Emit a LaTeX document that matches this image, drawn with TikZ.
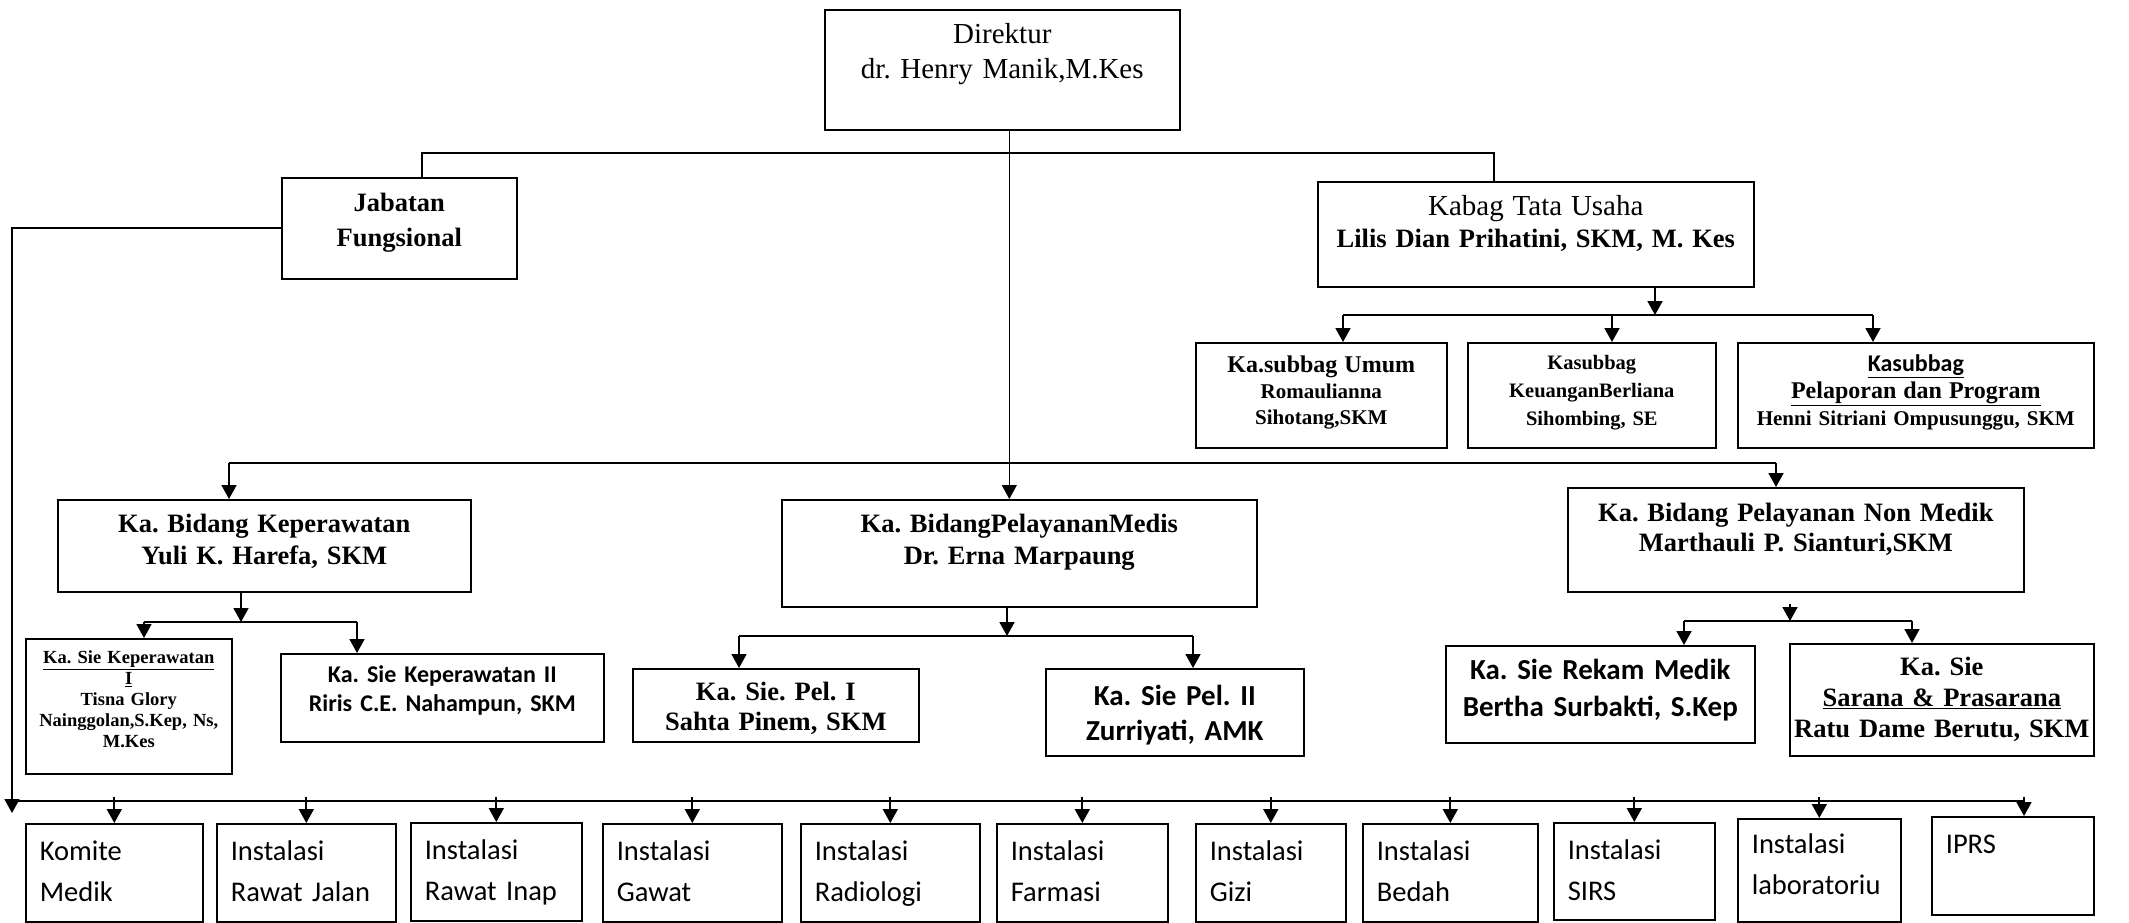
\documentclass[tikz,border=0pt]{standalone}
\usepackage{fontspec}
\setmainfont{Liberation Serif}
\newfontfamily\calibri{Carlito}
\usetikzlibrary{arrows.meta,calc}
\frenchspacing
\tikzstyle{box} = [draw, rectangle, line width=1.6pt, inner sep=0pt, align=center, anchor=north west]
\tikzstyle{unit} = [box, align=left, inner xsep=14pt, text height=37pt, text depth=61pt, font=\calibri\fontsize{28.5}{41}\selectfont]
\tikzstyle{wire} = [draw, line width=1.8pt]
\tikzstyle{line} = [draw, line width=1.8pt, -{Triangle[length=14pt,width=15pt]}]

\begin{document}
\begin{tikzpicture}[x=1pt,y=-1pt]
	\useasboundingbox (0,0) rectangle (2129,922);

	\node [box, text width=355pt, text height=34pt, text depth=86pt, font=\fontsize{29}{35}\selectfont] (dir) at (824,9) {Direktur\\dr. Henry Manik,M.Kes};
	\node [box, text width=235pt, text height=34pt, text depth=67pt, font=\bfseries\fontsize{26.5}{35}\selectfont] (jab) at (281,177) {Jabatan\\Fungsional};
	\node [box, text width=436pt, text height=34pt, text depth=71pt, font=\fontsize{26.5}{32}\selectfont] (kabag) at (1317,181) {{\fontsize{29}{32}\selectfont Kabag Tata Usaha}\\\textbf{Lilis Dian Prihatini, SKM, M. Kes}};

	\node [box, text width=251pt, text height=30pt, text depth=75pt, font=\bfseries\fontsize{21}{26}\selectfont] (umum) at (1195,342) {{\fontsize{24}{26}\selectfont Ka.subbag Umum}\\Romaulianna\\Sihotang,SKM};
	\node [box, text width=248pt, text height=27pt, text depth=78pt, font=\bfseries\fontsize{20.5}{28}\selectfont] (keu) at (1467,342) {Kasubbag\\KeuanganBerliana\\Sihombing, SE};
	\node [box, text width=356pt, text height=29pt, text depth=76pt, font=\bfseries\fontsize{21}{27}\selectfont] (lap) at (1737,342) {{\calibri\fontsize{24}{27}\selectfont\underline{Kasubbag}}\\{\fontsize{24}{27}\selectfont\underline{Pelaporan dan Program}}\\Henni Sitriani Ompusunggu, SKM};

	\node [box, text width=413pt, text height=33pt, text depth=59pt, font=\bfseries\fontsize{26.5}{32}\selectfont] (kep) at (57,499) {Ka. Bidang Keperawatan\\Yuli K. Harefa, SKM};
	\node [box, text width=475pt, text height=33pt, text depth=74pt, font=\bfseries\fontsize{26.5}{32}\selectfont] (med) at (781,499) {Ka. BidangPelayananMedis\\Dr. Erna Marpaung};
	\node [box, text width=456pt, text height=34pt, text depth=70pt, font=\bfseries\fontsize{26.5}{30}\selectfont] (non) at (1567,487) {Ka. Bidang Pelayanan Non Medik\\Marthauli P. Sianturi,SKM};

	\node [box, text width=206pt, text height=25pt, text depth=110pt, font=\bfseries\fontsize{18.5}{21}\selectfont] (kep1) at (25,638) {\underline{Ka. Sie Keperawatan}\\\underline{I}\\Tisna Glory\\Nainggolan,S.Kep, Ns,\\M.Kes};
	\node [box, text width=323pt, text height=29pt, text depth=59pt, font=\calibri\bfseries\fontsize{24}{29}\selectfont] (kep2) at (280,653) {Ka. Sie Keperawatan II\\Riris C.E. Nahampun, SKM};
	\node [box, text width=286pt, text height=32pt, text depth=41pt, font=\bfseries\fontsize{26.5}{30}\selectfont] (pel1) at (632,668) {Ka. Sie. Pel. I\\Sahta Pinem, SKM};
	\node [box, text width=258pt, text height=37pt, text depth=50pt, font=\calibri\bfseries\fontsize{29}{35}\selectfont] (pel2) at (1045,668) {Ka. Sie Pel. II\\Zurriyati, AMK};
	\node [box, text width=309pt, text height=34pt, text depth=63pt, font=\calibri\bfseries\fontsize{29}{37}\selectfont] (rekam) at (1445,645) {Ka. Sie Rekam Medik\\Bertha Surbakti, S.Kep};
	\node [box, text width=304pt, text height=32pt, text depth=80pt, font=\bfseries\fontsize{26.5}{31}\selectfont] (sarana) at (1789,643) {Ka. Sie\\\underline{Sarana \& Prasarana}\\Ratu Dame Berutu, SKM};

	\node [unit, text width=149pt] (kom) at (25,823) {Komite\\Medik};
	\node [unit, text width=151pt] (jalan) at (216,823) {Instalasi\\Rawat Jalan};
	\node [unit, text width=143pt] (inap) at (410,822) {Instalasi\\Rawat Inap};
	\node [unit, text width=151pt] (gawat) at (602,823) {Instalasi\\Gawat};
	\node [unit, text width=151pt] (rad) at (800,823) {Instalasi\\Radiologi};
	\node [unit, text width=143pt] (farm) at (996,823) {Instalasi\\Farmasi};
	\node [unit, text width=122pt] (gizi) at (1195,823) {Instalasi\\Gizi};
	\node [unit, text width=147pt] (bedah) at (1362,823) {Instalasi\\Bedah};
	\node [unit, text width=133pt, text depth=60pt] (sirs) at (1553,822) {Instalasi\\SIRS};
	\node [unit, text width=135pt, text height=35pt, text depth=68pt] (lab) at (1737,818) {Instalasi\\laboratoriu};
	\node [unit, text width=134pt] (iprs) at (1931,816) {IPRS};

	\coordinate (bus_tl) at (422,153);
	\coordinate (bus_tr) at (1494,153);
	\path [wire, line width=1.3pt] (jab.north -| bus_tl) -- (bus_tl) -- (bus_tr) -- (kabag.north -| bus_tr);
	\path [line, line width=1.3pt] ([xshift=7pt]dir.south) -- ([xshift=7pt]dir.south |- med.north);

	\coordinate (bus_tu) at (1655,315);
	\coordinate (tu_l) at (1343,315);
	\coordinate (tu_m) at (1612,315);
	\coordinate (tu_r) at (1873,315);
	\path [line] (bus_tu |- kabag.south) -- (bus_tu);
	\path [wire] (tu_l) -- (tu_r);
	\path [line] (tu_l) -- (tu_l |- umum.north);
	\path [line] (tu_m) -- (tu_m |- keu.north);
	\path [line] (tu_r) -- (tu_r |- lap.north);

	\coordinate (bid_l) at (229,463);
	\coordinate (bid_r) at (1776,463);
	\path [wire] (bid_l) -- (bid_r);
	\path [line] (bid_l) -- (bid_l |- kep.north);
	\path [line] (bid_r) -- (bid_r |- non.north);

	\coordinate (bus_kep) at (241,622);
	\coordinate (kep_l) at (144,622);
	\coordinate (kep_r) at (357,622);
	\path [line] (bus_kep |- kep.south) -- (bus_kep);
	\path [wire] (kep_l) -- (kep_r);
	\path [line] (kep_l) -- (kep_l |- kep1.north);
	\path [line] (kep_r) -- (kep_r |- kep2.north);

	\coordinate (bus_med) at (1007,636);
	\coordinate (med_l) at (739,636);
	\coordinate (med_r) at (1193,636);
	\path [line] (bus_med |- med.south) -- (bus_med);
	\path [wire] (med_l) -- (med_r);
	\path [line] (med_l) -- (med_l |- pel1.north);
	\path [line] (med_r) -- (med_r |- pel2.north);

	\coordinate (bus_non) at (1790,621);
	\coordinate (non_l) at (1684,621);
	\coordinate (non_r) at (1912,621);
	\path [line] ($(bus_non |- non.south)+(0,11)$) -- (bus_non);
	\path [wire] (non_l) -- (non_r);
	\path [line] (non_l) -- (non_l |- rekam.north);
	\path [line] (non_r) -- (non_r |- sarana.north);

	\coordinate (bus_l) at (12,801);
	\coordinate (bus_r) at (2024,801);
	\path [line] (jab.west) -| ($(bus_l)+(0,12)$);
	\path [wire] (bus_l) -- (bus_r);
	\foreach \u in {kom,jalan,inap,gawat,rad,farm,gizi,bedah,sirs,lab}
		\path [line] ($(\u.north |- bus_l)+(0,-4)$) -- (\u.north);
	\path [line] ($(bus_r)+(0,-4)$) -- (bus_r |- iprs.north);
\end{tikzpicture}
\end{document}
